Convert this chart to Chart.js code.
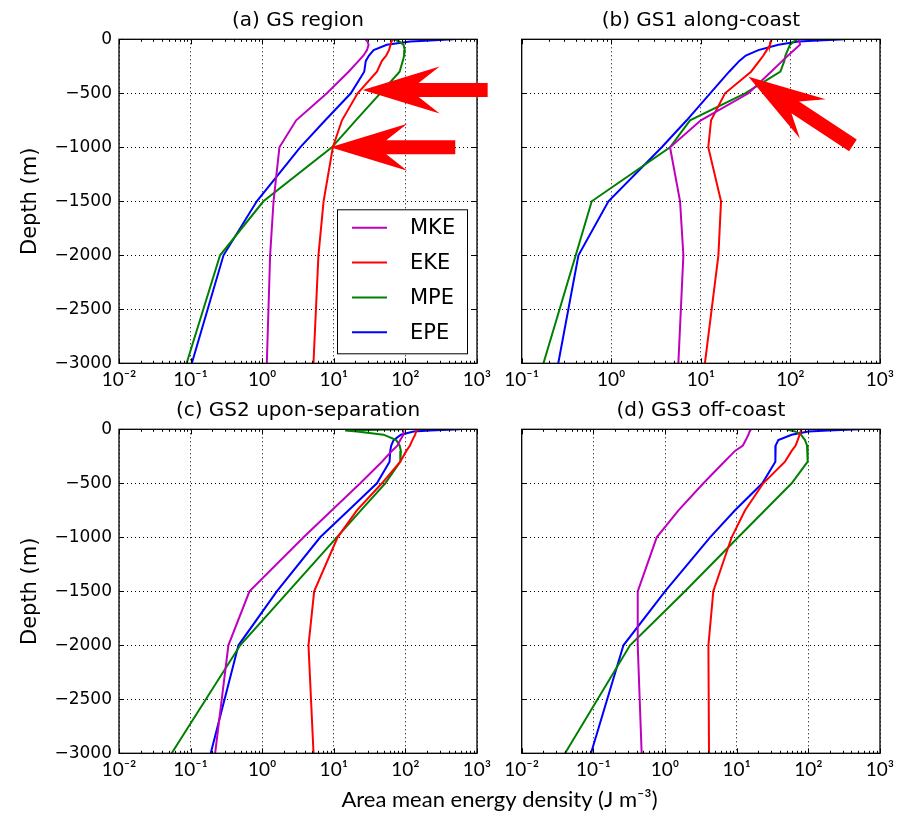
<!DOCTYPE html>
<html>
<head>
<meta charset="utf-8">
<script src="https://cdn.jsdelivr.net/npm/chart.js@4"></script>
<style>
  html, body { margin: 0; padding: 0; background: #fff; }
  #wrap { position: relative; width: 911px; height: 819px; }
  #wrap canvas { position: absolute; left: 0; top: 0; }
</style>
</head>
<body>
<div id="wrap">
  <canvas id="ca" width="911" height="819"></canvas>
  <canvas id="cb" width="911" height="819"></canvas>
  <canvas id="cc" width="911" height="819"></canvas>
  <canvas id="cd" width="911" height="819"></canvas>
</div>
<script>
// depth levels (m), shared by every profile
const depths = [0, -10, -20, -50, -100, -150, -200, -300, -500, -750, -1000, -1500, -2000, -3000];

// (a) GS region
const mkeA = [27.5, 28.5, 29.5, 30.6, 29.1, 26, 22.2, 16.1, 8.0, 2.98, 1.74, 1.44, 1.29, 1.16];
const ekeA = [68, 66, 64, 62, 59, 54, 47, 40, 21.5, 13, 9.7, 7.2, 6.1, 5.2];
const mpeA = [72, 75, 82, 94, 98, 96, 92, 83, 44.5, 20.3, 9.4, 1.04, 0.258, 0.088];
const epeA = [472, 223, 117, 55, 36, 31, 28, 26.6, 17.3, 7.6, 3.39, 0.84, 0.288, 0.104];

// (b) GS1 along-coast
const mkeB = [122.7, 124, 126, 128, 110, 94, 81.3, 60.8, 34, 10, 4.53, 5.86, 6.38, 5.61];
const ekeB = [61.8, 61, 60.5, 59.3, 54.4, 49.9, 45, 36.3, 18.6, 13, 12.1, 16.8, 15.7, 11.1];
const mpeB = [117.6, 115, 109, 99, 93.3, 87.9, 85.5, 77.3, 31.2, 7.57, 4.53, 0.605, 0.401, 0.175];
const epeB = [407, 205, 122.7, 73.4, 43.9, 31.7, 26.9, 20.7, 12.7, 6.95, 3.66, 0.93, 0.43, 0.256];

// (c) GS2 upon-separation
const mkeC = [92.4, 93, 93.5, 94.4, 84.8, 77.8, 64.8, 47, 23.4, 9.4, 3.78, 0.664, 0.337, 0.22];
const ekeC = [148, 145, 141, 137, 125, 116, 103, 84.8, 47, 21, 11.3, 5.32, 4.43, 5.21];
const mpeC = [94.4, 14.4, 21, 49.5, 74.5, 83, 86.5, 84.8, 52.3, 23.9, 11, 2.33, 0.492, 0.0544];
const epeC = [585, 223, 130, 86.6, 68.4, 63.4, 61.4, 60.1, 40, 16.1, 6.45, 1.6, 0.466, 0.191];

// (d) GS3 off-coast
const mkeD = [15.8, 15.5, 15.1, 14.6, 13.4, 12.2, 9.48, 6.73, 3.43, 1.54, 0.766, 0.416, 0.416, 0.472];
const ekeD = [80.7, 79, 78, 75.7, 71, 66.5, 58.5, 47.2, 23.5, 13.1, 8.51, 4.72, 4.03, 4.11];
const mpeD = [49.9, 55.5, 65.2, 79, 89.8, 95.8, 97.9, 97.9, 58.5, 24.8, 10.5, 1.9, 0.325, 0.0403];
const epeD = [526, 190, 100, 58.5, 38.1, 35, 35, 34.3, 22.8, 9.48, 4.25, 1.0, 0.263, 0.0927];

const seriesNames = ['MKE', 'EKE', 'MPE', 'EPE'];
const seriesColors = ['#bf00bf', '#ff0000', '#008000', '#0000ff'];

const xTickValues = [0.01, 0.1, 1, 10, 100, 1000];
const xTickLabels = ['10\u207b\u00b2', '10\u207b\u00b9', '10\u2070', '10\u00b9', '10\u00b2', '10\u00b3'];

// red arrows drawn on top (tip in data coords, direction of the tail in degrees)
const arrowsA = [{ x: 25.3, y: -469, angle: 0 }, { x: 8.93, y: -1000, angle: 0 }];
const arrowsB = [{ x: 34, y: -346, angle: 33.3 }];

const DEJAVU = "'DejaVu Sans', sans-serif";
const CALIB = "Lato, 'Noto Sans', sans-serif";

Chart.defaults.color = '#000';
Chart.defaults.font.family = DEJAVU;

// arrow outline in px: (along, across), tip at 0
const ARROW = [[0, 0], [77, -23.5], [56, -7], [125, -7], [125, 7], [56, 7], [77, 23.5]];

const decor = {
  id: 'decor',
  afterDraw(chart, args, opts) {
    const { ctx, chartArea: a } = chart;
    const { x, y } = chart.scales;
    ctx.save();
    ctx.strokeStyle = '#000';
    ctx.lineWidth = 1;
    const seg = (x1, y1, x2, y2) => {
      ctx.beginPath(); ctx.moveTo(x1, y1); ctx.lineTo(x2, y2); ctx.stroke();
    };

    // inward tick marks on all four sides (matplotlib style)
    const lo = Math.round(Math.log10(x.min));
    const hi = Math.round(Math.log10(x.max));
    for (let e = lo; e <= hi; e += 1) {
      for (let k = 1; k < 10; k += 1) {
        if (e === hi && k > 1) break;
        const px = Math.round(x.getPixelForValue(k * 10 ** e)) + 0.5;
        const len = k === 1 ? 5 : 2.5;
        seg(px, a.top, px, a.top + len);
        seg(px, a.bottom, px, a.bottom - len);
      }
    }
    for (let d = 0; d >= -3000; d -= 500) {
      const py = Math.round(y.getPixelForValue(d)) + 0.5;
      seg(a.left, py, a.left + 5, py);
      seg(a.right, py, a.right - 5, py);
    }

    // frame
    ctx.lineWidth = 1.3;
    ctx.strokeRect(a.left, a.top, a.right - a.left, a.bottom - a.top);

    // legend box, lower right
    if (opts.legend) {
      const w = 130;
      const h = 144;
      const x0 = a.right - 10 - w;
      const y0 = a.bottom - 10 - h;
      ctx.fillStyle = '#fff';
      ctx.fillRect(x0, y0, w, h);
      ctx.lineWidth = 1;
      ctx.strokeRect(x0 + 0.5, y0 + 0.5, w, h);
      ctx.font = `21px ${DEJAVU}`;
      ctx.textBaseline = 'middle';
      chart.data.datasets.forEach((ds, i) => {
        const yy = y0 + 18.5 + i * 34.8;
        ctx.strokeStyle = ds.borderColor;
        ctx.lineWidth = 2;
        seg(x0 + 15, yy, x0 + 50, yy);
        ctx.fillStyle = '#000';
        ctx.fillText(ds.label, x0 + 73, yy + 1);
      });
    }

    // shared x label under the bottom row
    if (opts.xlabel) {
      ctx.fillStyle = '#000';
      ctx.font = `22px ${CALIB}`;
      ctx.textAlign = 'center';
      ctx.textBaseline = 'middle';
      ctx.fillText(opts.xlabel, 499.5, 800);
    }

    // red arrows
    ctx.fillStyle = '#ff0000';
    (opts.arrows || []).forEach((ar) => {
      const px = x.getPixelForValue(ar.x);
      const py = y.getPixelForValue(ar.y);
      const r = (ar.angle * Math.PI) / 180;
      const c = Math.cos(r);
      const s = Math.sin(r);
      ctx.beginPath();
      ARROW.forEach(([u, v], i) => {
        const X = px + u * c - v * s;
        const Y = py + u * s + v * c;
        if (i) ctx.lineTo(X, Y); else ctx.moveTo(X, Y);
      });
      ctx.closePath();
      ctx.fill();
    });
    ctx.restore();
  },
};

const panels = [
  { id: 'ca', title: '(a) GS region', values: [mkeA, ekeA, mpeA, epeA], xMin: 0.01,
    left: 119, right: 477, top: 39.3, bottom: 363.3, yLabels: true, legend: true, arrows: arrowsA },
  { id: 'cb', title: '(b) GS1 along-coast', values: [mkeB, ekeB, mpeB, epeB], xMin: 0.1,
    left: 521.7, right: 880, top: 39.3, bottom: 363.3, yLabels: false, arrows: arrowsB },
  { id: 'cc', title: '(c) GS2 upon-separation', values: [mkeC, ekeC, mpeC, epeC], xMin: 0.01,
    left: 119, right: 477, top: 429.3, bottom: 753.3, yLabels: true,
    xlabel: 'Area mean energy density (J m\u207b\u00b3)' },
  { id: 'cd', title: '(d) GS3 off-coast', values: [mkeD, ekeD, mpeD, epeD], xMin: 0.01,
    left: 521.7, right: 880, top: 429.3, bottom: 753.3, yLabels: false },
];

const W = 911;
const H = 819;
const TITLE_H = 39;
const XAXIS_H = 37;

panels.forEach((p) => {
  const yAxisW = p.yLabels ? p.left : 0;
  // eslint-disable-next-line no-new
  new Chart(document.getElementById(p.id), {
    type: 'scatter',
    data: {
      datasets: p.values.map((vals, i) => ({
        label: seriesNames[i],
        data: vals.map((v, j) => ({ x: v, y: depths[j] })),
        showLine: true,
        borderColor: seriesColors[i],
        backgroundColor: seriesColors[i],
        borderWidth: 2,
        pointRadius: 0,
        tension: 0,
      })),
    },
    options: {
      responsive: false,
      animation: false,
      events: [],
      layout: {
        autoPadding: false,
        padding: {
          left: p.left - yAxisW,
          right: W - p.right,
          top: p.top - TITLE_H,
          bottom: H - p.bottom - XAXIS_H,
        },
      },
      plugins: {
        legend: { display: false },
        tooltip: { enabled: false },
        title: {
          display: true,
          text: p.title,
          fullSize: false,
          color: '#000',
          font: { family: DEJAVU, size: 20, weight: 'normal', lineHeight: 1.2 },
          padding: { top: 8, bottom: 7 },
        },
        decor: { legend: !!p.legend, arrows: p.arrows, xlabel: p.xlabel },
      },
      scales: {
        x: {
          type: 'logarithmic',
          min: p.xMin,
          max: 1000,
          afterBuildTicks: (scale) => {
            scale.ticks = xTickValues
              .filter((v) => v >= p.xMin)
              .map((v) => ({ value: v }));
          },
          afterFit: (scale) => { scale.height = XAXIS_H; },
          grid: { color: '#000', lineWidth: 1, drawTicks: false },
          border: { display: false, dash: [1, 3] },
          ticks: {
            autoSkip: false,
            maxRotation: 0,
            padding: 5,
            font: { family: CALIB, size: 19 },
            callback: (v) => xTickLabels[xTickValues.indexOf(v)],
          },
        },
        y: {
          type: 'linear',
          min: -3000,
          max: 0,
          afterFit: (scale) => { scale.width = yAxisW; },
          grid: { color: '#000', lineWidth: 1, drawTicks: false },
          border: { display: false, dash: [1, 3] },
          title: {
            display: p.yLabels,
            text: 'Depth (m)',
            font: { family: DEJAVU, size: 21 },
            padding: { top: 18, bottom: 0 },
          },
          ticks: {
            display: p.yLabels,
            stepSize: 500,
            padding: 7,
            font: { family: DEJAVU, size: 17 },
            callback: (v) => (v === 0 ? '0' : `\u2212${Math.abs(v)}`),
          },
        },
      },
    },
    plugins: [decor],
  });
});
</script>
</body>
</html>
